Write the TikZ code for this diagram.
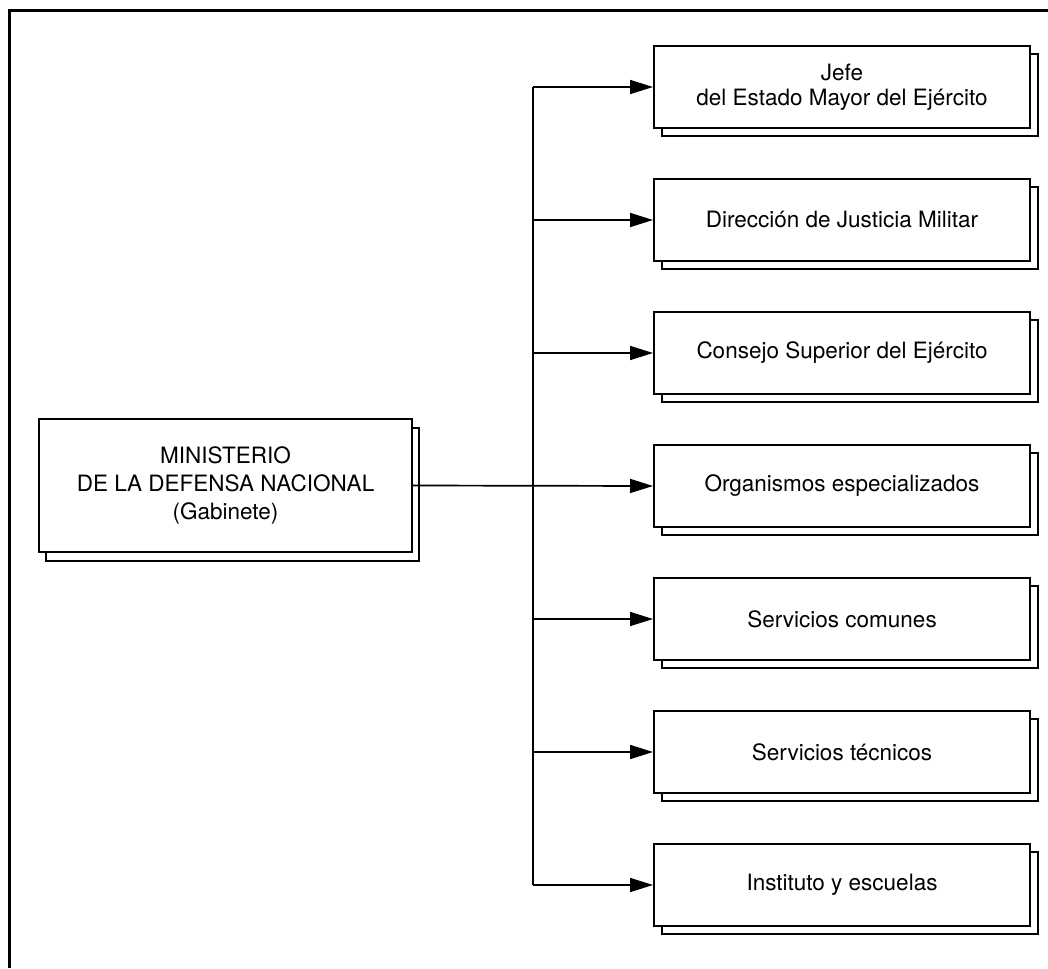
\documentclass[tikz,border=0pt]{standalone}
\usepackage{fontspec}
\setmainfont{TeX Gyre Heros}
\usetikzlibrary{arrows.meta,shadows}

\begin{document}
\begin{tikzpicture}[->,>={Triangle[length=23pt,width=14pt]},x=1pt,y=-1pt,line width=1.7pt]
    \tikzstyle{box}=[draw, fill=white, line width=2pt, minimum width=376pt, minimum height=82pt, inner sep=0pt,
      align=center, font=\fontsize{22.5}{25}\selectfont, copy shadow={shadow xshift=8pt,shadow yshift=-8pt}]
    \tikzstyle{mbox}=[draw, fill=white, line width=2pt, minimum width=373pt, minimum height=133pt, inner sep=0pt,
      align=center, font=\fontsize{22.5}{28}\selectfont, copy shadow={shadow xshift=7pt,shadow yshift=-9pt}]

    \useasboundingbox (0,0) rectangle (1048,968);
    \draw[-, line width=3pt] (1048,11) -- (9,11) -- (9,968);

    \node[mbox] (min) at (225.5,485.5) {MINISTERIO\\DE LA DEFENSA NACIONAL\\(Gabinete)};

    \node[box] (jefe) at (842,87)  {Jefe\\del Estado Mayor del Ejército};
    \node[box] (just) at (842,220) {Dirección de Justicia Militar};
    \node[box] (cons) at (842,353) {Consejo Superior del Ejército};
    \node[box] (org)  at (842,486) {Organismos especializados};
    \node[box] (com)  at (842,619) {Servicios comunes};
    \node[box] (tec)  at (842,752) {Servicios técnicos};
    \node[box] (inst) at (842,885) {Instituto y escuelas};

    \coordinate (trunk) at (533,0);

    \draw[-] (jefe.west -| trunk) -- (inst.west -| trunk);
    \path
     (min.east) edge (org.west)
     (jefe.west -| trunk) edge (jefe.west)
     (just.west -| trunk) edge (just.west)
     (cons.west -| trunk) edge (cons.west)
     (com.west -| trunk) edge (com.west)
     (tec.west -| trunk) edge (tec.west)
     (inst.west -| trunk) edge (inst.west)
     ;
\end{tikzpicture}
\end{document}
